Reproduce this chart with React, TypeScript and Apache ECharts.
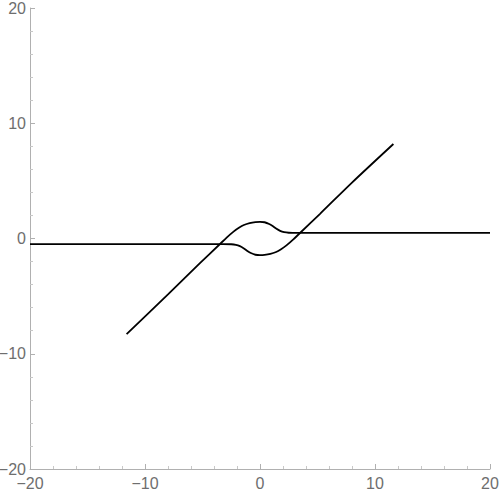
import React, { useEffect, useRef } from "react";
import * as echarts from "echarts";

// Curve 1: rising line that bumps up near the origin, then flattens
const curve1X = [-11.6, -8.0, -5.2, -3.5, -2.9, -2.3, -1.8, -1.4, -0.9, -0.4, 0, 0.4, 0.8, 1.1, 1.4, 1.75, 2.1, 2.5, 3.2, 5, 10, 20];
const curve1Y = [-8.3, -4.85, -2.12, -0.5, 0.08, 0.6, 0.95, 1.17, 1.34, 1.43, 1.45, 1.41, 1.26, 1.08, 0.86, 0.66, 0.55, 0.5, 0.48, 0.48, 0.48, 0.48];

// Curve 2: flat line that dips near the origin, then rises
const curve2X = [-20, -10, -5, -3.2, -2.5, -2.1, -1.75, -1.4, -1.1, -0.8, -0.4, 0, 0.4, 0.9, 1.4, 1.8, 2.3, 2.9, 3.5, 5.2, 8.0, 11.6];
const curve2Y = [-0.48, -0.48, -0.48, -0.48, -0.5, -0.55, -0.66, -0.86, -1.08, -1.26, -1.41, -1.45, -1.43, -1.34, -1.17, -0.95, -0.6, -0.08, 0.5, 2.12, 4.85, 8.2];

const xTicks = [-20, -10, 0, 10, 20];
const yTicks = [-20, -10, 0, 10, 20];

const fmt = (v: number) => (v < 0 ? "\u2212" + Math.abs(v) : String(v));

export default function App() {
  const ref = useRef<HTMLDivElement>(null);
  useEffect(() => {
    if (!ref.current) return;
    const chart = echarts.init(ref.current, undefined, { renderer: "svg" });
    const axisCommon = {
      type: "value" as const,
      min: xTicks[0],
      max: xTicks[xTicks.length - 1],
      interval: 10,
      axisLine: { show: true, onZero: false, lineStyle: { color: "#b0b0b0", width: 1 } },
      axisTick: { show: true, inside: true, length: 5, lineStyle: { color: "#b0b0b0" } },
      minorTick: { show: true, splitNumber: 5, length: 3, lineStyle: { color: "#c8c8c8" } },
      splitLine: { show: false },
      axisLabel: {
        color: "#6e6e6e",
        fontSize: 16,
        fontFamily: "Liberation Sans, Arial, sans-serif",
        formatter: fmt,
      },
    };
    chart.setOption({
      animation: false,
      backgroundColor: "#ffffff",
      grid: { left: 30, right: 10, top: 8, bottom: 22, containLabel: false, outerBoundsMode: "none" },
      xAxis: { ...axisCommon, axisLabel: { ...axisCommon.axisLabel, margin: 6 } },
      yAxis: {
        ...axisCommon,
        min: yTicks[0],
        max: yTicks[yTicks.length - 1],
        axisLabel: { ...axisCommon.axisLabel, margin: 4 },
      },
      series: [
        {
          type: "line",
          data: curve1X.map((x, i) => [x, curve1Y[i]]),
          showSymbol: false,
          smooth: 0.3,
          lineStyle: { color: "#000", width: 1.8 },
        },
        {
          type: "line",
          data: curve2X.map((x, i) => [x, curve2Y[i]]),
          showSymbol: false,
          smooth: 0.3,
          lineStyle: { color: "#000", width: 1.8 },
        },
      ],
    });
    return () => chart.dispose();
  }, []);
  return <div ref={ref} style={{ width: 500, height: 491, position: "absolute", left: 0, top: 0 }} />;
}
